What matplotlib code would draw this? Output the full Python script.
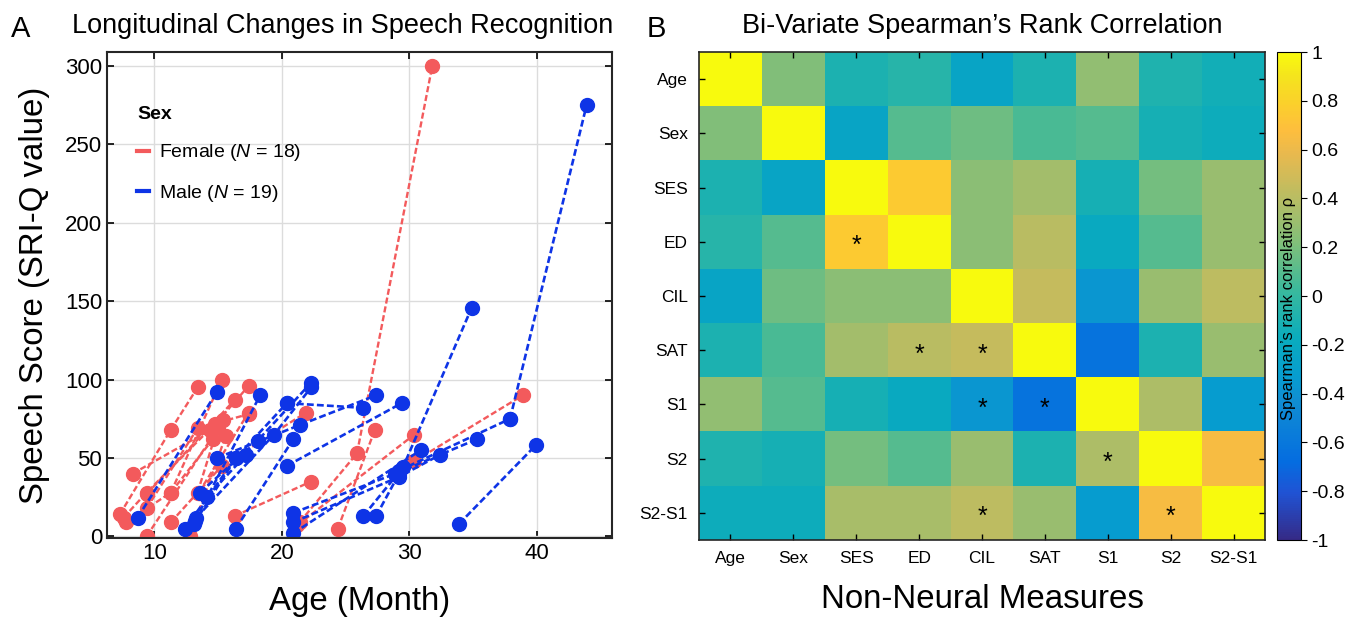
import numpy as np
import matplotlib
matplotlib.use("Agg")
import matplotlib.pyplot as plt
from matplotlib.colors import LinearSegmentedColormap
from matplotlib.lines import Line2D

plt.rcParams['font.family'] = ['Liberation Sans', 'DejaVu Sans']
plt.rcParams['mathtext.fontset'] = 'custom'
plt.rcParams['mathtext.it'] = 'Liberation Sans:italic'
plt.rcParams['mathtext.rm'] = 'Liberation Sans'

# ---------------- data: panel A (age in months, SRI-Q score per visit) ----------------
female_ages = [[7.3, 11.3, 13.4], [7.8, 11.3, 15.3], [8.3, 14.4, 17.4], [9.4, 16.3],
               [9.4, 13.4, 17.4], [9.4, 15.4], [11.3, 15.3], [13.4, 15.0], [12.8, 15.6],
               [16.3, 22.3], [15.3, 21.9], [21.4, 25.9, 31.8], [24.4, 27.3], [21.2, 30.4],
               [30.4, 38.9], [11.3, 14.6], [7.6, 9.4, 14.8], [13.5, 17.4]]
female_scores = [[14, 68, 95], [9, 28, 100], [40, 68, 96], [27, 87],
                 [18, 69, 78], [0, 74], [9, 45], [28, 70], [0, 64],
                 [13, 35], [45, 79], [9, 53, 300], [5, 68], [7, 65],
                 [48, 90], [28, 62], [12, 28, 72], [28, 79]]

male_ages = [[8.7, 14.9], [13.2, 18.3], [12.4, 16.4, 20.4], [13.6, 18.1, 22.3],
             [13.3, 19.4, 22.3], [14.9, 21.4, 27.4], [16.4, 20.9], [20.4, 29.4],
             [20.9, 28.9, 35.3], [20.9, 29.2, 32.4], [20.9, 30.9], [26.4, 29.5, 34.9],
             [27.4, 29.2], [37.9, 43.9], [33.9, 39.9], [20.4, 26.4], [14.1, 17.2],
             [13.1, 16.4], [29.2, 37.9]]
male_scores = [[12, 92], [10, 90], [5, 50, 85], [28, 61, 98],
               [12, 65, 95], [50, 71, 90], [5, 62], [45, 85],
               [15, 40, 62], [9, 38, 52], [2, 55], [13, 44, 146],
               [13, 40], [75, 275], [8, 58], [85, 82], [25, 52],
               [8, 50], [42, 75]]

# ---------------- data: panel B (Spearman rho matrix) ----------------
measures = ['Age', 'Sex', 'SES', 'ED', 'CIL', 'SAT', 'S1', 'S2', 'S2-S1']
rho = np.array([
    [1.00, 0.22, -0.10, -0.05, -0.25, -0.10, 0.28, -0.08, -0.14],
    [0.22, 1.00, -0.25, 0.10, 0.17, 0.07, 0.10, -0.12, -0.16],
    [-0.10, -0.25, 1.00, 0.75, 0.25, 0.33, -0.12, 0.18, 0.30],
    [-0.05, 0.10, 0.75, 1.00, 0.25, 0.40, -0.20, 0.10, 0.30],
    [-0.25, 0.17, 0.25, 0.25, 1.00, 0.45, -0.37, 0.30, 0.42],
    [-0.10, 0.07, 0.33, 0.40, 0.45, 1.00, -0.63, -0.10, 0.30],
    [0.28, 0.10, -0.12, -0.20, -0.37, -0.63, 1.00, 0.36, -0.33],
    [-0.08, -0.12, 0.18, 0.10, 0.30, -0.10, 0.36, 1.00, 0.65],
    [-0.16, -0.16, 0.35, 0.35, 0.42, 0.30, -0.33, 0.65, 1.00],
])
# significant cells (row, col)
sig_cells = [(3, 2), (5, 3), (5, 4), (6, 4), (6, 5), (7, 6), (8, 4), (8, 7)]

# MATLAB parula approximation
parula_stops = [
    (0.2081, 0.1663, 0.5292), (0.1253, 0.3242, 0.8303), (0.0165, 0.4266, 0.8786),
    (0.0641, 0.5570, 0.8240), (0.0265, 0.6137, 0.8135), (0.0384, 0.6743, 0.7436),
    (0.2178, 0.7250, 0.6193), (0.4871, 0.7491, 0.4840), (0.7184, 0.7411, 0.3905),
    (0.9139, 0.7258, 0.3063), (0.9938, 0.7455, 0.2403), (0.9880, 0.8066, 0.1794),
    (0.9589, 0.8949, 0.1132), (0.9763, 0.9831, 0.0538)]
parula_pos = [0, 6, 10, 18, 21, 26, 32, 38, 44, 50, 53, 56, 60, 63]
parula = LinearSegmentedColormap.from_list(
    'parula', [(p / 63, c) for p, c in zip(parula_pos, parula_stops)])

red = '#F35A5C'
blue = '#0E34E6'

fig = plt.figure(figsize=(13.55, 6.21), dpi=100)

# ---------------- panel A ----------------
ax = fig.add_axes([0.079, 0.1337, 0.3727, 0.7826])
for a, s in zip(female_ages, female_scores):
    ax.plot(a, s, color=red, lw=1.7, dashes=(2.6, 1.2), marker='o', ms=10, mec=red, mfc=red)
for a, s in zip(male_ages, male_scores):
    ax.plot(a, s, color=blue, lw=1.9, dashes=(2.6, 1.2), marker='o', ms=10, mec=blue, mfc=blue)

ax.set_xlim(6.3, 45.9)
ax.set_ylim(-1, 309)
ax.set_xticks([10, 20, 30, 40])
ax.set_yticks(np.arange(0, 301, 50))
ax.grid(True, color='#dcdcdc', lw=1)
ax.set_axisbelow(True)
ax.tick_params(direction='in', top=True, right=True, labelsize=16, length=5, width=1.2)
for sp in ax.spines.values():
    sp.set_linewidth(1.5)
    sp.set_color('#262626')
ax.set_xlabel('Age (Month)', fontsize=23.8, labelpad=16)
ax.set_ylabel('Speech Score (SRI-Q value)', fontsize=23.8, labelpad=11)
ax.set_title('Longitudinal Changes in Speech Recognition', fontsize=19.5, pad=14, x=0.467)

handles = [Line2D([], [], color=red, lw=3), Line2D([], [], color=blue, lw=3)]
leg = ax.legend(handles, [r'Female ($\it{N}$ = 18)', r'Male ($\it{N}$ = 19)'],
                loc='upper left', bbox_to_anchor=(0.025, 0.925), frameon=False,
                fontsize=14, title='Sex', title_fontproperties={'weight': 'bold', 'size': 14},
                handlelength=0.6, handletextpad=0.5, labelspacing=1.0, alignment='left')

fig.text(0.008, 0.94, 'A', fontsize=21)

# ---------------- panel B ----------------
bx = fig.add_axes([0.5159, 0.1304, 0.4177, 0.7858])
im = bx.imshow(rho, cmap=parula, vmin=-1, vmax=1, aspect='auto', interpolation='nearest')
for r, c in sig_cells:
    bx.text(c, r + 0.08, '*', ha='center', va='center', fontsize=18, color='black')
bx.set_xticks(range(len(measures)))
bx.set_yticks(range(len(measures)))
bx.set_xticklabels(measures, fontsize=12.5)
bx.set_yticklabels(measures, fontsize=12.5)
bx.tick_params(direction='in', top=True, right=True, length=4, width=1, pad=8)
for sp in bx.spines.values():
    sp.set_linewidth(1.2)
    sp.set_color('#262626')
bx.set_xlabel('Non-Neural Measures', fontsize=23.8, labelpad=13)
bx.set_title('Bi-Variate Spearman\u2019s Rank Correlation', fontsize=19.5, pad=14)
fig.text(0.477, 0.94, 'B', fontsize=21)

cax = fig.add_axes([0.9424, 0.1304, 0.0177, 0.7858])
cb = fig.colorbar(im, cax=cax, ticks=np.round(np.arange(-1, 1.01, 0.2), 1))
cb.ax.set_yticklabels(['-1', '-0.8', '-0.6', '-0.4', '-0.2', '0', '0.2', '0.4', '0.6', '0.8', '1'])
cb.ax.tick_params(labelsize=14, length=4, direction='out')
cb.outline.set_linewidth(0.8)
cax.text(0.5, 0.475, 'Spearman\u2019s rank correlation \u03c1', rotation=90, ha='center', va='center',
         fontsize=12, transform=cax.transAxes)

fig.savefig('out.png', dpi=100)
